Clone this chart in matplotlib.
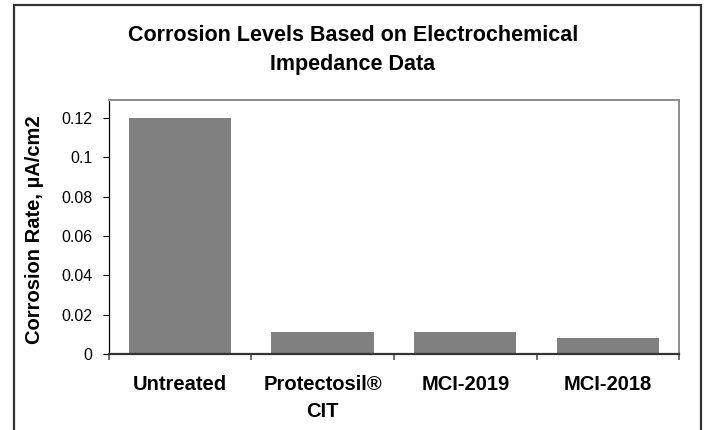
import matplotlib
matplotlib.use("Agg")
import matplotlib.pyplot as plt
from matplotlib.patches import Rectangle

# data
categories = ["Untreated", "Protectosil®\nCIT", "MCI-2019", "MCI-2018"]
rates = [0.12, 0.011, 0.011, 0.008]
yticks = [0, 0.02, 0.04, 0.06, 0.08, 0.1, 0.12]
ytick_labels = ["0", "0.02", "0.04", "0.06", "0.08", "0.1", "0.12"]

plt.rcParams['font.family'] = ['Liberation Sans', 'DejaVu Sans']

fig = plt.figure(figsize=(7.06, 4.30), dpi=100)
ax = fig.add_axes([0.154, 0.1767, 0.808, 0.5907])

x = range(len(categories))
ax.bar(x, rates, width=0.718, color='#808080', zorder=2)

ax.set_xlim(-0.5, len(categories) - 0.5)
ax.set_ylim(0, 0.1292)

# y axis
ax.set_yticks(yticks)
ax.set_yticklabels(ytick_labels, fontsize=11.5)
ax.tick_params(axis='y', direction='out', length=4.3, width=0.8, pad=7.5, color='black')
ax.set_ylabel("Corrosion Rate, µA/cm2", fontsize=14.5, fontweight='bold')
ax.yaxis.set_label_coords(-0.113, 0.49)

# x axis: labels at centers, ticks on boundaries
ax.set_xticks(list(x))
ax.set_xticklabels(categories, fontsize=14.5, fontweight='bold', linespacing=1.55, va='top')
ax.tick_params(axis='x', which='major', length=0, pad=15)
ax.set_xticks([i - 0.5 for i in range(len(categories) + 1)], minor=True)
ax.tick_params(axis='x', which='minor', direction='out', length=4, width=1.2, color='#555555')

# frame
ax.spines['left'].set_color('black')
ax.spines['left'].set_linewidth(0.9)
ax.spines['bottom'].set_color('#333333')
ax.spines['bottom'].set_linewidth(1.6)
for s in ['top', 'right']:
    ax.spines[s].set_color('#8c8c8c')
    ax.spines[s].set_linewidth(1.4)

# title
fig.text(0.5, 0.884, "Corrosion Levels Based on Electrochemical\nImpedance Data",
         ha='center', va='center', fontsize=15.5, fontweight='bold', linespacing=1.5)

# outer chart border
fig.patches.append(Rectangle((14 / 706, -0.05), 687 / 706, 1.05 - 5 / 430,
                             transform=fig.transFigure, fill=False,
                             edgecolor='#333333', linewidth=1.6))

fig.savefig("out.png", dpi=100)
